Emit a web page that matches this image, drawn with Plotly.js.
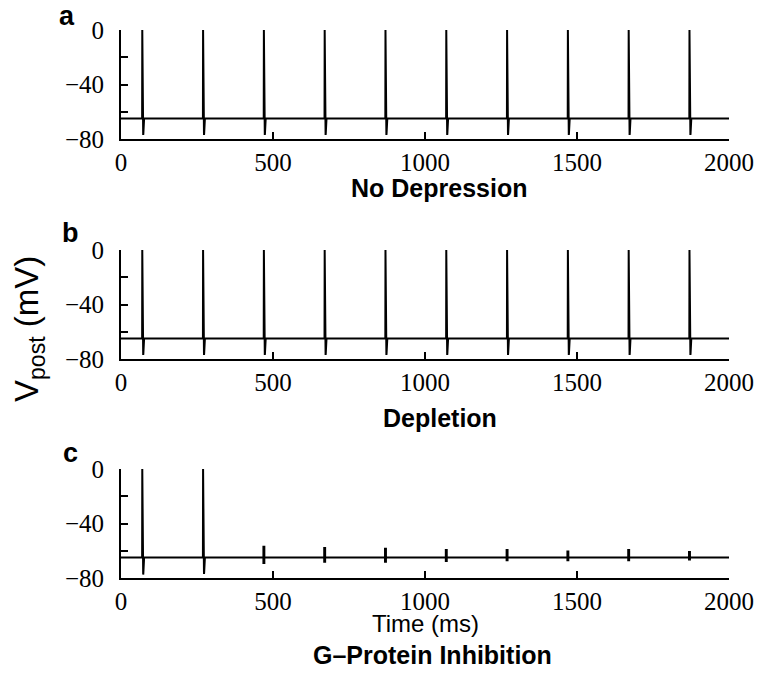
<!DOCTYPE html>
<html>
<head>
<meta charset="utf-8">
<script src="https://cdn.plot.ly/plotly-3.0.1.min.js"></script>
<style>html,body{margin:0;padding:0;background:#fff;} #chart{width:758px;height:687px;}</style>
</head>
<body>
<div id="chart"></div>
<script>
// ---- data ----
var spikeTimes = [70, 270, 470, 670, 870, 1070, 1270, 1470, 1670, 1870]; // ms
var restV = -65; // mV resting potential
var peakA = [0, 0, 0, 0, 0, 0, 0, 0, 0, 0];
var troughA = [-77, -77, -77, -77, -77, -77, -77, -77, -77, -77];
var peakB = [0, 0, 0, 0, 0, 0, 0, 0, 0, 0];
var troughB = [-77, -77, -77, -77, -77, -77, -77, -77, -77, -77];
var peakC = [0, 0, -57, -58, -58.5, -59.5, -59.5, -60.5, -59.5, -61];
var troughC = [-77.5, -77, -69, -68, -68, -67.5, -67, -67, -67, -66.5];
var tStart = 0, tEnd = 2000;
var panelTitles = ['No Depression', 'Depletion', 'G\u2013Protein Inhibition'];
var panelLetters = ['a', 'b', 'c'];
var yTickVals = [0, -20, -40, -60, -80];
var yTickText = ['0', ' ', '\u221240', ' ', '\u221280'];
var xTickVals = [0, 500, 1000, 1500, 2000];
var xTickText = ['0', '500', '1000', '1500', '2000'];

function buildTrace(peaks, troughs) {
  var x = [tStart], y = [restV];
  for (var i = 0; i < spikeTimes.length; i++) {
    var t = spikeTimes[i];
    var full = peaks[i] > -30;
    if (full) {
      x.push(t - 0.5, t, t + 1.5, t + 3, t + 3.5, t + 6);
      y.push(restV, peaks[i], restV, troughs[i], troughs[i] + 1, restV);
    } else {
      x.push(t - 1.5, t - 1.5, t + 1.5, t + 1.5, t - 1.5, t - 1.5, t + 1.5);
      y.push(restV, peaks[i], peaks[i], troughs[i], troughs[i], restV, restV);
    }
  }
  x.push(tEnd); y.push(restV);
  return {x: x, y: y};
}

var traces = [];
var sets = [[peakA, troughA], [peakB, troughB], [peakC, troughC]];
for (var k = 0; k < 3; k++) {
  var d = buildTrace(sets[k][0], sets[k][1]);
  traces.push({
    x: d.x, y: d.y, type: 'scatter', mode: 'lines',
    line: {color: '#000', width: 2},
    xaxis: k === 0 ? 'x' : 'x' + (k + 1),
    yaxis: k === 0 ? 'y' : 'y' + (k + 1),
    hoverinfo: 'skip', showlegend: false
  });
}

var H = 687;
function py(p) { return 1 - p / H; }
var L = 121, W = 608;
function px(p) { return (p - L) / W; }

var SERIF = 'Liberation Serif';
var SANS = 'Liberation Sans';

var domains = [[py(139), py(30)], [py(359), py(250)], [py(578), py(469)]];
var tickFont = {family: SERIF, size: 25, color: '#000'};

var layout = {
  width: 758, height: 687,
  margin: {l: L, r: 758 - L - W, t: 0, b: 0},
  paper_bgcolor: '#fff', plot_bgcolor: '#fff',
  showlegend: false,
  font: {family: SANS, color: '#000'},
  annotations: []
};

for (var k = 0; k < 3; k++) {
  var xa = k === 0 ? 'xaxis' : 'xaxis' + (k + 1);
  var ya = k === 0 ? 'yaxis' : 'yaxis' + (k + 1);
  layout[xa] = {
    domain: [0, 1], anchor: k === 0 ? 'y' : 'y' + (k + 1),
    range: [tStart, tEnd], tickvals: xTickVals, ticktext: xTickText,
    ticks: 'inside', ticklen: 7, tickwidth: 2, tickcolor: '#000',
    showline: true, linewidth: 2, linecolor: '#000',
    showgrid: false, zeroline: false, tickfont: tickFont,
    ticklabelstandoff: 0, fixedrange: true
  };
  layout[ya] = {
    domain: domains[k], anchor: k === 0 ? 'x' : 'x' + (k + 1),
    range: [-80, 0], tickvals: yTickVals, ticktext: yTickText,
    ticks: 'inside', ticklen: 7, tickwidth: 2, tickcolor: '#000',
    showline: true, linewidth: 2, linecolor: '#000',
    showgrid: false, zeroline: false, tickfont: tickFont,
    ticklabelstandoff: 10, fixedrange: true
  };
}

var titleFont = {family: SANS, size: 25, color: '#000', weight: 'bold'};
var titlePos = [[439, 188], [440, 418], [432, 655]];
for (var k = 0; k < 3; k++) {
  layout.annotations.push({
    text: panelTitles[k], xref: 'paper', yref: 'paper',
    x: px(titlePos[k][0]), y: py(titlePos[k][1]), xanchor: 'center', yanchor: 'middle',
    showarrow: false, font: titleFont
  });
}
var letterPos = [[67, 16], [70, 233], [70, 453]];
for (var k = 0; k < 3; k++) {
  layout.annotations.push({
    text: panelLetters[k], xref: 'paper', yref: 'paper',
    x: px(letterPos[k][0]), y: py(letterPos[k][1]), xanchor: 'center', yanchor: 'middle',
    showarrow: false, font: {family: SANS, size: 27, color: '#000', weight: 'bold'}
  });
}
layout.annotations.push({
  text: 'Time (ms)', xref: 'paper', yref: 'paper',
  x: px(425), y: py(623), xanchor: 'center', yanchor: 'middle',
  showarrow: false, font: {family: SANS, size: 24, color: '#000'}
});
layout.annotations.push({
  text: 'V<sub>post</sub> (mV)', xref: 'paper', yref: 'paper',
  x: px(29), y: py(329), xanchor: 'center', yanchor: 'middle', textangle: -90,
  showarrow: false, font: {family: SANS, size: 33, color: '#000'}
});

Plotly.newPlot('chart', traces, layout, {staticPlot: true, displayModeBar: false});
</script>
</body>
</html>
